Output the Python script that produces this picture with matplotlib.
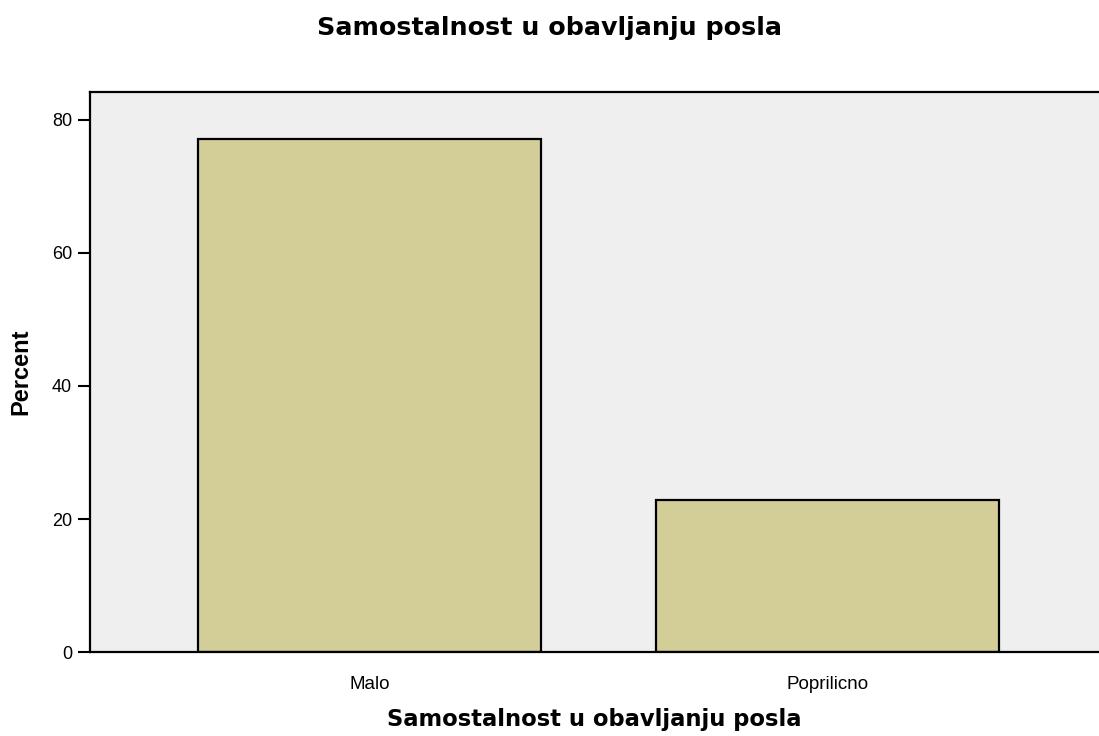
import numpy as np
import matplotlib
matplotlib.use("Agg")
from matplotlib import pyplot as plt

plt.rcParams['font.family'] = ['Liberation Sans', 'DejaVu Sans']

# data
categories = ['Malo', 'Poprilicno']
percent = [77.1, 22.9]
yticks = [0, 20, 40, 60, 80]
title = 'Samostalnost u obavljanju posla'

fig = plt.figure(figsize=(10.99, 7.36), dpi=100)
ax = fig.add_axes([0.0819, 0.1141, 1 - 0.0819, 0.875 - 0.1141])
ax.set_facecolor('#efefef')

x = np.arange(len(categories))
ax.bar(x, percent, width=0.749, color='#d3ce98', edgecolor='black', linewidth=1.6, zorder=2)

ax.set_xlim(-0.611, 1.592)
ax.set_ylim(0, 84.2)
ax.set_xticks(x)
ax.set_xticklabels(categories, fontsize=13.5)
ax.set_yticks(yticks)
ax.tick_params(axis='y', labelsize=13, length=9, width=1.5, pad=4)
ax.tick_params(axis='x', length=0, pad=17)

for s in ['left', 'bottom', 'top']:
    ax.spines[s].set_linewidth(1.6)
ax.spines['right'].set_visible(False)

ax.set_ylabel('Percent', fontsize=17, fontweight='bold')
ax.yaxis.set_label_coords(-0.0575, 0.5)
ax.set_xlabel(title, fontsize=16.3, fontweight='bold', family='DejaVu Sans')
ax.xaxis.set_label_coords(0.5, -0.1)
fig.text(0.5, 1 - 34.5 / 736, title, fontsize=18.3, fontweight='bold',
         family='DejaVu Sans', ha='center', va='baseline')

fig.savefig('out.png', dpi=100)
